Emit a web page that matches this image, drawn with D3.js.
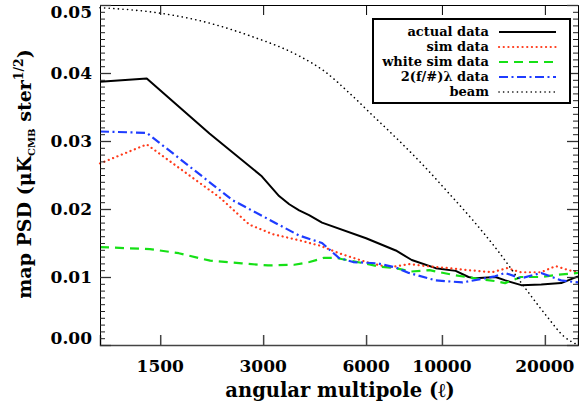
<!DOCTYPE html>
<html>
<head>
<meta charset="utf-8">
<script src="https://cdn.jsdelivr.net/npm/d3@7"></script>
<style>
  body { margin: 0; background: #fff; }
  text { font-family: "DejaVu Serif", serif; font-weight: bold; }
</style>
</head>
<body>
<svg id="chart" width="579" height="406"></svg>
<script>
// multipole values + PSD
var actualL = [1000, 1370, 2090, 2960, 3340, 3577, 3823, 4087, 4460, 6000, 7330, 8160, 9590, 10970, 11960, 12540, 14340, 15330, 17070, 19520, 22330, 25000];
var actualV = [0.0387, 0.0392, 0.0311, 0.0249, 0.0219, 0.0207, 0.0198, 0.0191, 0.0180, 0.0157, 0.0139, 0.0125, 0.0113, 0.0109, 0.0100, 0.0098, 0.0100, 0.0095, 0.0088, 0.0089, 0.0091, 0.0101];

var simL = [1000, 1370, 2240, 2735, 3200, 3823, 4400, 5000, 6000, 7000, 8000, 9000, 10500, 12000, 14000, 15500, 17000, 19500, 21500, 23500, 25000];
var simV = [0.0267, 0.0295, 0.0217, 0.0177, 0.0163, 0.0154, 0.0146, 0.0135, 0.0122, 0.0114, 0.0119, 0.0116, 0.0113, 0.0110, 0.0107, 0.0113, 0.0107, 0.0107, 0.0116, 0.0110, 0.0107];

var whiteL = [1000, 1400, 1700, 2100, 2600, 3100, 3700, 4100, 4500, 4900, 5800, 6600, 7330, 8100, 9200, 10800, 12500, 14300, 15300, 17000, 19500, 21600, 25000];
var whiteV = [0.0144, 0.0141, 0.0135, 0.0124, 0.0120, 0.0117, 0.0118, 0.0122, 0.0128, 0.0128, 0.0121, 0.0115, 0.0113, 0.0108, 0.0110, 0.0103, 0.0098, 0.0094, 0.0091, 0.0100, 0.0100, 0.0103, 0.0106];

var fnumL = [1000, 1370, 2440, 3823, 4460, 5000, 5500, 6500, 7330, 8000, 9600, 11500, 13000, 14300, 15300, 17000, 19500, 22300, 25000];
var fnumV = [0.0314, 0.0312, 0.0213, 0.0161, 0.0150, 0.0128, 0.0122, 0.0120, 0.0114, 0.0106, 0.0095, 0.0092, 0.0097, 0.0101, 0.0106, 0.0098, 0.0106, 0.0095, 0.0092];

var beamL = [1000, 1500, 1956, 2735, 3823, 4520, 5350, 6320, 7470, 8830, 10440, 12340, 14600, 17260, 20430, 22690, 25000];
var beamV = [0.0496, 0.0488, 0.0477, 0.0455, 0.0425, 0.0403, 0.0371, 0.0336, 0.0301, 0.0264, 0.0224, 0.0183, 0.0138, 0.0088, 0.0040, 0.0013, 0.0000];

var xTicks = [1500, 3000, 6000, 10000, 20000];
var yTicks = [0, 0.01, 0.02, 0.03, 0.04, 0.05];

var legendNames = ["actual data", "sim data", "white sim data", "2(f/#)\u03bb data", "beam"];

var margin = {left: 100, right: 0, top: 4, bottom: 61};
var width = 579, height = 406;

var svg = d3.select("#chart");

var x = d3.scaleLog()
    .domain([1000, 25000])
    .range([margin.left, width - margin.right - 1]);

var y = d3.scaleLinear()
    .domain([0, 0.05])
    .range([height - margin.bottom, margin.top + 1]);

// series styling
var series = [
  {L: actualL, V: actualV, color: "#000", width: 2, dash: null},
  {L: simL, V: simV, color: "#ff3a1a", width: 2.2, dash: "0.1 4.6", cap: "round"},
  {L: whiteL, V: whiteV, color: "#16e016", width: 2.2, dash: "9 6"},
  {L: fnumL, V: fnumV, color: "#1e3cff", width: 2.2, dash: "9 3.5 2 3.5"},
  {L: beamL, V: beamV, color: "#000", width: 1.6, dash: "0.1 4.5", cap: "round", smooth: true}
];

var plotArea = svg.append("g");
series.forEach(function(s){
  var pts = s.L.map((l, i) => [l, s.V[i]]);
  var line = d3.line()
      .x(d => x(d[0]))
      .y(d => y(d[1]))
      .curve(s.smooth ? d3.curveMonotoneX : d3.curveLinear);
  plotArea.append("path")
    .attr("d", line(pts))
    .attr("fill", "none")
    .attr("stroke", s.color)
    .attr("stroke-width", s.width)
    .attr("stroke-linecap", s.cap || "butt")
    .attr("stroke-linejoin", "round")
    .attr("stroke-dasharray", s.dash);
});

// axes: ticks point inwards like IDL
var x0 = margin.left, x1 = width - margin.right - 1;
var y0 = height - margin.bottom, y1 = margin.top + 1;

svg.append("g")
  .attr("transform", `translate(0,${y0})`)
  .call(d3.axisBottom(x).tickValues(xTicks).tickSize(-10).tickFormat(""))
  .call(g => g.selectAll("line,path").attr("stroke", "#444").attr("stroke-width", 1.5));

svg.append("g")
  .attr("transform", `translate(0,${y1})`)
  .call(d3.axisTop(x).tickValues(xTicks).tickSize(-10).tickFormat(""))
  .call(g => g.selectAll("line,path").attr("stroke", "#000"));

var minorY = d3.range(0, 51).map(i => i / 1000);

[[x0, d3.axisLeft], [x1, d3.axisRight]].forEach(function(a){
  svg.append("g")
    .attr("transform", `translate(${a[0]},0)`)
    .call(a[1](y).tickValues(minorY).tickSize(-5).tickFormat("").tickSizeOuter(0))
    .call(g => g.select(".domain").attr("stroke", "#000"))
    .call(g => g.selectAll(".tick line").attr("stroke", "#222"));
  svg.append("g")
    .attr("transform", `translate(${a[0]},0)`)
    .call(a[1](y).tickValues(yTicks).tickSize(-11).tickFormat("").tickSizeOuter(0))
    .call(g => g.select(".domain").remove())
    .call(g => g.selectAll(".tick line").attr("stroke", "#333").attr("stroke-width", 1.3));
});

// tick labels
svg.append("g").selectAll("text")
  .data(yTicks).join("text")
    .attr("x", 92)
    .attr("y", d => d === 0 ? y(d) - 7 : (d === 0.05 ? y(d) + 7 : y(d)))
    .attr("dy", "0.36em")
    .attr("text-anchor", "end")
    .attr("font-size", 17)
    .text(d => d3.format(".2f")(d));

svg.append("g").selectAll("text")
  .data(xTicks).join("text")
    .attr("x", d => x(d))
    .attr("y", 372)
    .attr("text-anchor", "middle")
    .attr("font-size", 17)
    .text(d => d);

// axis titles
svg.append("text")
  .attr("x", 340)
  .attr("y", 397)
  .attr("text-anchor", "middle")
  .attr("font-size", 19.5)
  .text("angular multipole (\u2113)");

var yTitle = svg.append("text")
  .attr("transform", "translate(31,174) rotate(-90)")
  .attr("text-anchor", "middle")
  .attr("font-size", 19);
yTitle.append("tspan").text("map PSD (\u03bcK");
yTitle.append("tspan").attr("font-size", 10).attr("dy", 4).text("CMB");
yTitle.append("tspan").attr("dy", -4).text(" ster");
yTitle.append("tspan").attr("font-size", 12.5).attr("dy", -8).text("1/2");
yTitle.append("tspan").attr("dy", 8).text(")");

// legend
var legend = svg.append("g");
legend.append("rect")
  .attr("x", 373).attr("y", 19)
  .attr("width", 197).attr("height", 84)
  .attr("fill", "#fff")
  .attr("stroke", "#000")
  .attr("stroke-width", 2);

legendNames.forEach(function(name, i){
  var ly = 31 + i * 15;
  var s = series[i];
  legend.append("text")
    .attr("x", 489).attr("y", ly)
    .attr("dy", "0.35em")
    .attr("text-anchor", "end")
    .attr("font-size", 13)
    .text(name);
  legend.append("line")
    .attr("x1", 499).attr("x2", 556)
    .attr("y1", ly + 1).attr("y2", ly + 1)
    .attr("stroke", s.color)
    .attr("stroke-width", s.width)
    .attr("stroke-linecap", s.cap || "butt")
    .attr("stroke-dasharray", s.dash);
});
</script>
</body>
</html>
